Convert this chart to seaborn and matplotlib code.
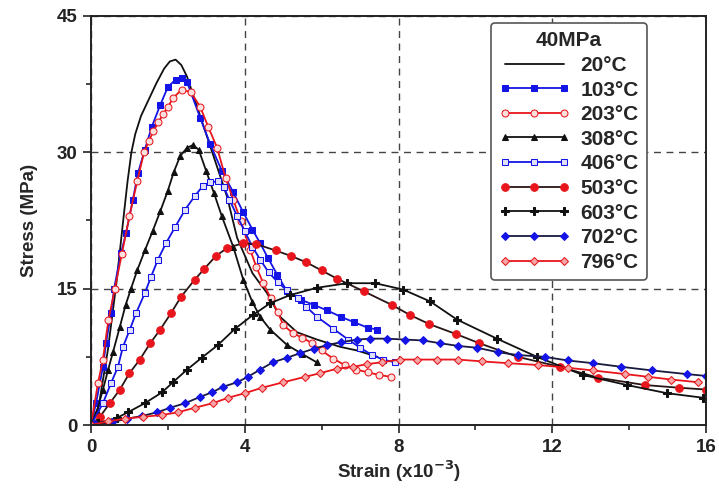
import numpy as np
import pandas as pd
import matplotlib
matplotlib.use("Agg")
import matplotlib.pyplot as plt
from matplotlib.ticker import MultipleLocator
import seaborn as sns

# Stress-strain curves at 40MPa
x_20 = [0, 0.18, 0.44, 0.66, 0.85, 0.95, 1.05, 1.15, 1.3, 1.5, 1.7, 1.9, 2.05, 2.2, 2.35, 2.5, 2.76, 3.02, 3.28, 3.54, 3.8, 4.2, 4.58, 4.92, 5.36, 5.88, 6.48, 6.92, 7.45]
y_20 = [0, 1.6, 8.3, 15.6, 23.0, 26.8, 30.0, 32.0, 34.0, 35.8, 37.6, 39.2, 40.0, 40.2, 39.6, 38.3, 35.0, 31.7, 28.4, 25.1, 20.6, 16.7, 14.5, 11.9, 10.2, 9.4, 8.6, 8.2, 7.5]

x_103 = [0, 0.13, 0.31, 0.39, 0.52, 0.6, 0.78, 0.91, 1.09, 1.22, 1.4, 1.58, 1.8, 2.0, 2.2, 2.36, 2.5, 2.84, 3.1, 3.4, 3.7, 3.96, 4.2, 4.4, 4.6, 4.85, 5.1, 5.45, 5.8, 6.15, 6.5, 6.85, 7.2, 7.45]
y_103 = [0, 2.4, 6.4, 9.0, 12.3, 15.0, 18.9, 21.1, 24.8, 27.7, 30.3, 32.8, 35.2, 37.2, 38.0, 38.2, 37.7, 33.8, 30.9, 28.0, 25.6, 23.4, 21.5, 20.0, 18.4, 16.5, 14.7, 13.8, 13.2, 12.6, 11.9, 11.3, 10.7, 10.5]

x_203 = [0, 0.18, 0.31, 0.45, 0.62, 0.8, 1.0, 1.2, 1.38, 1.5, 1.62, 1.75, 1.88, 2.0, 2.14, 2.36, 2.6, 2.84, 3.05, 3.28, 3.5, 3.7, 3.9, 4.14, 4.3, 4.48, 4.67, 4.86, 5.0, 5.25, 5.5, 5.75, 6.0, 6.3, 6.6, 6.9, 7.2, 7.5, 7.8]
y_203 = [0, 4.6, 7.2, 11.5, 15.0, 18.8, 23.0, 26.8, 30.0, 31.2, 32.3, 33.3, 34.2, 35.0, 36.0, 36.9, 36.6, 35.0, 32.8, 30.5, 27.2, 24.8, 22.4, 19.3, 17.4, 15.6, 14.0, 12.4, 11.0, 10.1, 9.6, 9.0, 8.2, 7.3, 6.6, 6.1, 5.8, 5.5, 5.3]

x_308 = [0, 0.15, 0.31, 0.44, 0.57, 0.75, 0.9, 1.04, 1.2, 1.4, 1.6, 1.8, 2.0, 2.15, 2.32, 2.5, 2.65, 2.8, 3.0, 3.2, 3.4, 3.7, 3.96, 4.2, 4.4, 4.66, 5.1, 5.5, 5.87]
y_308 = [0, 1.5, 3.9, 6.0, 8.0, 10.8, 13.2, 15.0, 17.0, 19.2, 21.3, 23.5, 25.8, 27.8, 29.6, 30.5, 30.8, 30.3, 27.9, 25.5, 23.0, 19.6, 16.0, 13.5, 11.9, 10.5, 8.8, 7.8, 6.9]

x_406 = [0, 0.31, 0.52, 0.7, 0.83, 1.01, 1.17, 1.4, 1.56, 1.74, 1.95, 2.19, 2.45, 2.7, 2.91, 3.1, 3.3, 3.45, 3.6, 3.8, 4.0, 4.2, 4.4, 4.62, 4.86, 5.1, 5.38, 5.6, 5.88, 6.3, 6.69, 7.0, 7.31, 7.6, 7.9]
y_406 = [0, 2.4, 4.6, 6.4, 8.6, 10.5, 12.3, 14.5, 16.3, 18.2, 20.0, 21.8, 23.7, 25.2, 26.3, 26.7, 26.8, 26.2, 24.8, 23.0, 21.3, 19.6, 18.2, 16.8, 15.7, 14.8, 14.0, 13.0, 11.9, 10.6, 9.4, 8.5, 7.7, 7.2, 6.9]

x_503 = [0, 0.23, 0.49, 0.75, 1.0, 1.27, 1.54, 1.8, 2.08, 2.34, 2.7, 2.95, 3.25, 3.55, 3.96, 4.3, 4.8, 5.2, 5.6, 6.0, 6.4, 7.1, 7.83, 8.3, 8.8, 9.5, 10.1, 11.1, 12.2, 13.2, 14.4, 15.3, 16.0]
y_503 = [0, 0.9, 2.4, 3.9, 5.7, 7.2, 9.0, 10.5, 12.3, 14.1, 16.0, 17.2, 18.6, 19.5, 20.0, 19.9, 19.2, 18.6, 17.9, 17.0, 16.1, 14.7, 13.2, 12.1, 11.1, 10.0, 9.0, 7.5, 6.4, 5.2, 4.4, 4.1, 3.9]

x_603 = [0, 0.18, 0.68, 0.96, 1.4, 1.85, 2.13, 2.5, 2.88, 3.3, 3.75, 4.21, 4.66, 5.18, 5.88, 6.66, 7.39, 8.12, 8.82, 9.52, 10.56, 11.6, 12.8, 13.94, 14.98, 15.92]
y_603 = [0, 0.2, 0.8, 1.4, 2.4, 3.6, 4.7, 6.1, 7.4, 8.8, 10.6, 12.1, 13.4, 14.3, 15.1, 15.6, 15.6, 14.9, 13.6, 11.6, 9.5, 7.5, 5.5, 4.4, 3.5, 3.0]

x_702 = [0, 0.1, 0.55, 0.94, 1.33, 1.72, 2.06, 2.45, 2.84, 3.15, 3.43, 3.8, 4.08, 4.4, 4.73, 5.1, 5.44, 5.8, 6.14, 6.5, 6.92, 7.26, 7.7, 8.17, 8.64, 9.08, 9.55, 10.04, 10.6, 11.1, 11.8, 12.4, 13.06, 13.8, 14.6, 15.5, 16.0]
y_702 = [0, 0.1, 0.3, 0.7, 1.0, 1.4, 1.9, 2.4, 3.1, 3.6, 4.2, 4.7, 5.3, 6.1, 6.9, 7.4, 7.9, 8.4, 8.8, 9.1, 9.4, 9.5, 9.5, 9.4, 9.3, 9.0, 8.7, 8.5, 8.0, 7.7, 7.5, 7.1, 6.8, 6.4, 6.0, 5.6, 5.4]

x_796 = [0, 0.44, 0.88, 1.35, 1.85, 2.26, 2.7, 3.17, 3.57, 4.0, 4.45, 5.0, 5.57, 5.96, 6.4, 6.82, 7.18, 7.57, 8.04, 8.48, 9.0, 9.55, 10.17, 10.85, 11.63, 12.4, 13.06, 13.9, 14.5, 15.1, 15.8]
y_796 = [0, 0.4, 0.7, 0.9, 1.1, 1.4, 1.9, 2.4, 3.0, 3.5, 4.1, 4.7, 5.3, 5.7, 6.2, 6.4, 6.7, 6.9, 7.2, 7.2, 7.2, 7.2, 7.0, 6.8, 6.6, 6.3, 6.0, 5.6, 5.3, 5.0, 4.7]

labels = ['20°C', '103°C', '203°C', '308°C', '406°C', '503°C', '603°C', '702°C', '796°C']

BLUE = '#1414e6'
RED = '#e8161c'
BLACK = '#111111'

series = [
    (x_20, y_20, dict(color=BLACK, marker=None)),
    (x_103, y_103, dict(color=BLUE, marker='s', markerfacecolor=BLUE, markeredgecolor=BLUE, markersize=4.5)),
    (x_203, y_203, dict(color=RED, marker='o', markerfacecolor='#fbe0e0', markeredgecolor=RED, markersize=5)),
    (x_308, y_308, dict(color=BLACK, marker='^', markerfacecolor=BLACK, markeredgecolor=BLACK, markersize=4.5)),
    (x_406, y_406, dict(color=BLUE, marker='s', markerfacecolor='#e0e0fb', markeredgecolor=BLUE, markersize=5)),
    (x_503, y_503, dict(color='#2a1515', marker='o', markerfacecolor=RED, markeredgecolor=RED, markersize=5.5)),
    (x_603, y_603, dict(color=BLACK, marker='P', markerfacecolor=BLACK, markeredgecolor=BLACK, markersize=6)),
    (x_702, y_702, dict(color='#1a1a40', marker='D', markerfacecolor=BLUE, markeredgecolor=BLUE, markersize=4)),
    (x_796, y_796, dict(color=RED, marker='D', markerfacecolor='#f4a6a6', markeredgecolor=RED, markersize=3.8)),
]

sns.set_style("ticks")
plt.rcParams['font.family'] = ['Liberation Sans', 'DejaVu Sans']
plt.rcParams['font.weight'] = 'bold'

fig = plt.figure(figsize=(7.19, 4.95), dpi=100)
ax = fig.add_axes([0.1266, 0.1414, 0.8554, 0.8263])

for (xs, ys, style), lab in zip(series, labels):
    df = pd.DataFrame({'strain': xs, 'stress': ys})
    sns.lineplot(data=df, x='strain', y='stress', ax=ax, sort=False, estimator=None,
                 linewidth=1.3, label=lab, **style)

ax.set_xlim(0, 16)
ax.set_ylim(0, 45)
ax.xaxis.set_major_locator(MultipleLocator(4))
ax.xaxis.set_minor_locator(MultipleLocator(2))
ax.yaxis.set_major_locator(MultipleLocator(15))
ax.yaxis.set_minor_locator(MultipleLocator(7.5))
ax.tick_params(which='major', direction='out', length=6, width=1.2, labelsize=13.5, pad=4, colors='#222222')
ax.tick_params(which='minor', direction='out', length=3.5, width=1.2)
for lab in ax.get_xticklabels() + ax.get_yticklabels():
    lab.set_fontweight('bold')

for s in ax.spines.values():
    s.set_visible(True)
    s.set_linewidth(1.4)
    s.set_color('#222222')

ax.grid(True, which='major', linestyle=(0, (5, 4)), color='#444444', linewidth=1.0)

ax.set_xlabel('Strain (x10$^{\\mathbf{-3}}$)', fontsize=13.5, fontweight='bold', labelpad=2)
ax.set_ylabel('Stress (MPa)', fontsize=13.5, fontweight='bold', labelpad=13)

leg = ax.legend(title='40MPa', loc='upper right', bbox_to_anchor=(0.904, 0.983), borderaxespad=0,
                numpoints=3, handlelength=3.4, handletextpad=0.5, labelspacing=0.27,
                prop={'size': 15, 'weight': 'bold'}, title_fontproperties={'size': 15, 'weight': 'bold'},
                fancybox=True, framealpha=1, edgecolor='#555555', borderpad=0.4)
leg.get_frame().set_linewidth(1.2)

fig.savefig('out.png', dpi=100)
